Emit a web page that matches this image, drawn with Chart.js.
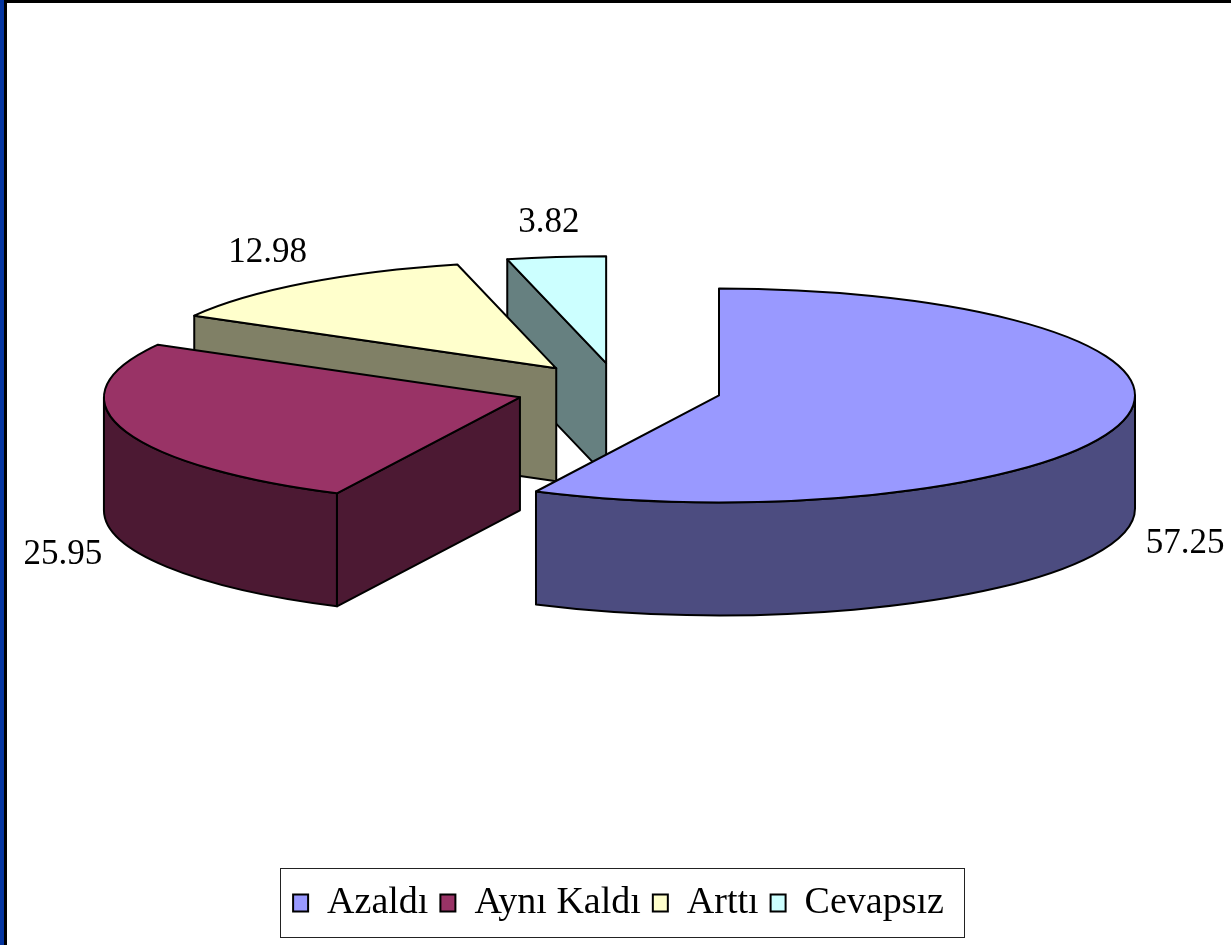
<!DOCTYPE html>
<html>
<head>
<meta charset="utf-8">
<script src="https://cdn.jsdelivr.net/npm/chart.js@4.4.1/dist/chart.umd.min.js"></script>
<style>
  body { margin: 0; background: #fff; }
  #wrap { position: relative; width: 1231px; height: 945px; overflow: hidden; }
  #edgeBlue { position: absolute; left: 0; top: 0; width: 4px; height: 945px; background: #0535a0; }
  #edgeLeft { position: absolute; left: 4px; top: 0; width: 3px; height: 945px; background: #000; }
  #edgeTop { position: absolute; left: 4px; top: 0; width: 1227px; height: 3px; background: #000; }
  canvas { position: absolute; left: 0; top: 0; }
</style>
</head>
<body>
<div id="wrap">
  <canvas id="pie" width="1231" height="945"></canvas>
  <div id="edgeBlue"></div>
  <div id="edgeLeft"></div>
  <div id="edgeTop"></div>
</div>
<script>
const categories = ['Azaldı', 'Aynı Kaldı', 'Arttı', 'Cevapsız'];
const values = [57.25, 25.95, 12.98, 3.82];
const topColors = ['#9999ff', '#993366', '#ffffcc', '#ccffff'];
const sideColors = ['#4c4c80', '#4c1933', '#808066', '#668080'];

// 3d look
const tilt = 0.257;      // ry / rx
const depth = 113;
const explode = 0.248;   // fraction of radius

function ellipseCentre(chart) {
  const arc = chart.getDatasetMeta(0).data[0];
  return { x: arc.x, y: arc.y - depth / 2, rx: arc.outerRadius, ry: arc.outerRadius * tilt };
}

const pie3d = {
  id: 'pie3d',
  beforeDatasetsDraw(chart) {
    const ctx = chart.ctx;
    const meta = chart.getDatasetMeta(0);
    const e = ellipseCentre(chart);

    const slices = meta.data.map((arc, i) => {
      const mid = (arc.startAngle + arc.endAngle) / 2;
      return {
        i, a0: arc.startAngle, a1: arc.endAngle, mid,
        cx: e.x + Math.cos(mid) * e.rx * explode,
        cy: e.y + Math.sin(mid) * e.ry * explode
      };
    });

    ctx.save();
    ctx.lineWidth = 2;
    ctx.lineJoin = 'round';
    ctx.strokeStyle = '#000';

    const order = slices.slice().sort((a, b) => Math.sin(a.mid) - Math.sin(b.mid));
    order.forEach(s => {
      const { a0, a1, cx, cy } = s;
      const px = a => cx + e.rx * Math.cos(a);
      const py = a => cy + e.ry * Math.sin(a);
      ctx.fillStyle = sideColors[s.i];

      // start wall
      if (Math.cos(a0) < -0.01) {
        ctx.beginPath();
        ctx.moveTo(cx, cy);
        ctx.lineTo(px(a0), py(a0));
        ctx.lineTo(px(a0), py(a0) + depth);
        ctx.lineTo(cx, cy + depth);
        ctx.closePath();
        ctx.fill(); ctx.stroke();
      }
      // end wall
      if (Math.cos(a1) > 0.01) {
        ctx.beginPath();
        ctx.moveTo(cx, cy);
        ctx.lineTo(px(a1), py(a1));
        ctx.lineTo(px(a1), py(a1) + depth);
        ctx.lineTo(cx, cy + depth);
        ctx.closePath();
        ctx.fill(); ctx.stroke();
      }
      // outer wall (front half only)
      const f0 = Math.max(a0, 0), f1 = Math.min(a1, Math.PI);
      if (f1 > f0) {
        ctx.beginPath();
        ctx.ellipse(cx, cy, e.rx, e.ry, 0, f0, f1);
        ctx.lineTo(px(f1), py(f1) + depth);
        ctx.ellipse(cx, cy + depth, e.rx, e.ry, 0, f1, f0, true);
        ctx.closePath();
        ctx.fill(); ctx.stroke();
      }
      // top face
      ctx.fillStyle = topColors[s.i];
      ctx.beginPath();
      ctx.moveTo(cx, cy);
      ctx.lineTo(px(a0), py(a0));
      ctx.ellipse(cx, cy, e.rx, e.ry, 0, a0, a1);
      ctx.closePath();
      ctx.fill(); ctx.stroke();
    });

    // value labels
    ctx.fillStyle = '#000';
    ctx.font = '35px "Liberation Serif", "Times New Roman", serif';
    ctx.textAlign = 'center';
    ctx.textBaseline = 'middle';
    slices.forEach(s => {
      const sn = Math.sin(s.mid);
      const x = s.cx + 1.15 * e.rx * Math.cos(s.mid);
      const y = s.cy + 1.15 * e.ry * sn + (sn > 0 ? depth + 8 : -18);
      ctx.fillText(values[s.i].toFixed(2), x, y);
    });
    ctx.restore();
    return false;
  },
  afterDraw(chart) {
    const hb = chart.legend.legendHitBoxes;
    if (!hb || !hb.length) return;
    const ctx = chart.ctx;
    const first = hb[0], last = hb[hb.length - 1];
    const mid = first.top + first.height / 2;
    const left = first.left - 13;
    const right = last.left + last.width + 20;
    ctx.save();
    ctx.strokeStyle = '#222';
    ctx.lineWidth = 1;
    ctx.strokeRect(Math.round(left) + 0.5, Math.round(mid - 35) + 0.5, Math.round(right - left), 69);
    ctx.restore();
  }
};

new Chart(document.getElementById('pie'), {
  type: 'pie',
  data: {
    labels: categories,
    datasets: [{
      data: values,
      backgroundColor: topColors,
      borderColor: '#000',
      borderWidth: 2
    }]
  },
  options: {
    responsive: false,
    animation: false,
    radius: 416,
    layout: { padding: { left: 6, right: 0, top: 20, bottom: 13 } },
    plugins: {
      legend: {
        position: 'bottom',
        labels: {
          color: '#000',
          boxWidth: 15,
          boxHeight: 17,
          padding: 12,
          font: { family: '"Liberation Serif", "Times New Roman", serif', size: 38 }
        }
      },
      tooltip: { enabled: false }
    }
  },
  plugins: [pie3d]
});
</script>
</body>
</html>
